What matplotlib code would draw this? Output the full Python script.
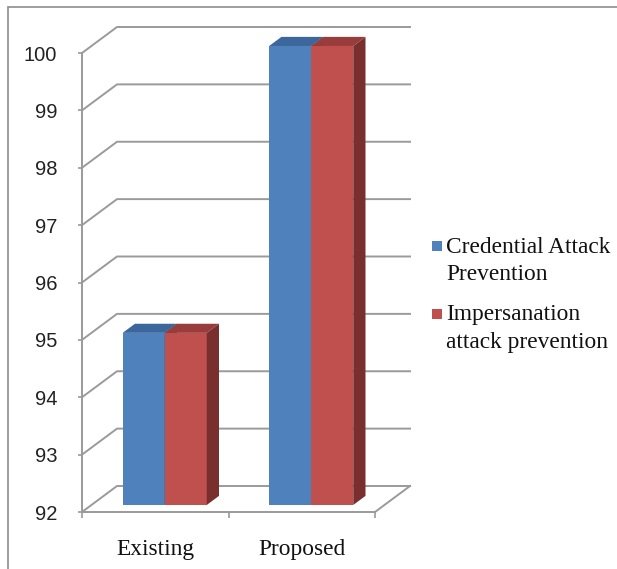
import matplotlib
matplotlib.use('Agg')
import matplotlib.pyplot as plt
from matplotlib.patches import Polygon, Rectangle

categories = ['Existing', 'Proposed']
series_names = ['Credential Attack\nPrevention', 'Impersanation\nattack prevention']
credential = [95, 100]
impersonation = [95, 100]
y_ticks = [92, 93, 94, 95, 96, 97, 98, 99, 100]

# face colours: front, top, side
blue = ('#4f81bd', '#3b679c', '#345a88')
red = ('#c0504d', '#983d3b', '#792f2e')
line_grey = '#9a9a9a'

W, H = 617, 569
fig = plt.figure(figsize=(W / 100, H / 100), dpi=100)
ax = fig.add_axes([82 / W, 57 / H, 293 / W, 459 / H])
ax.set_xlim(-0.5, 1.5)
ax.set_ylim(92, 100)

# depth of the box (back wall offset) in data units
DX = 35 / 146.5
DY = 26 / 57.375
front = 0.27   # where the bars start in depth
depth = 0.35   # how deep the bars are
bw = 0.287     # bar width

# back wall gridlines plus left-wall diagonals
x0, x1 = ax.get_xlim()
base = y_ticks[0]
for v in y_ticks:
    ax.plot([x0, x0 + DX, x1 + DX], [v, v + DY, v + DY], color=line_grey,
            lw=1.4, clip_on=False, zorder=1)
ax.plot([x1, x1 + DX], [base, base + DY], color=line_grey, lw=1.4,
        clip_on=False, zorder=1)


def bar3d(xl, value, cols, z):
    xr = xl + bw
    yb = base + front * DY
    yt = value + front * DY
    ax.bar(xl, value - base, bottom=yb, width=bw, align='edge',
           color=cols[0], lw=0, zorder=z, clip_on=False)
    top = [(xl, yt), (xr, yt), (xr + depth * DX, yt + depth * DY),
           (xl + depth * DX, yt + depth * DY)]
    side = [(xr, yb), (xr + depth * DX, yb + depth * DY),
            (xr + depth * DX, yt + depth * DY), (xr, yt)]
    ax.add_patch(Polygon(top, closed=True, fc=cols[1], lw=0, zorder=z,
                         clip_on=False))
    ax.add_patch(Polygon(side, closed=True, fc=cols[2], lw=0, zorder=z,
                         clip_on=False))


for i in range(len(categories)):
    c = i + front * DX
    bar3d(c - bw, credential[i], blue, 3)
    bar3d(c, impersonation[i], red, 4)

for s in ['top', 'right']:
    ax.spines[s].set_visible(False)
for s in ['left', 'bottom']:
    ax.spines[s].set_color(line_grey)
    ax.spines[s].set_linewidth(1.4)
    ax.spines[s].set_zorder(2)

ax.set_yticks(y_ticks)
ax.set_yticklabels([str(v) for v in y_ticks], family='Liberation Sans',
                   fontsize=14.5, color='#222222')
ax.tick_params(axis='y', direction='out', length=3, width=1.2,
               color=line_grey, pad=15)

ax.set_xticks(range(len(categories)))
ax.set_xticklabels(categories, family='Liberation Serif', fontsize=16.8,
                   color='#111111')
ax.tick_params(axis='x', which='major', length=0, pad=19.5)
ax.set_xticks([-0.5, 0.5, 1.5], minor=True)
ax.tick_params(axis='x', which='minor', direction='out', length=4, width=1.2,
               color=line_grey)

# chart area border
fig.add_artist(Rectangle((8 / W, -0.1), 1.2, (H - 7) / H + 0.1,
                         transform=fig.transFigure, fill=False,
                         ec='#8c8c8c', lw=1.2))

# legend
for name, cols, yc in [(series_names[0], blue, 261),
                       (series_names[1], red, 328.5)]:
    sq_y = yc - 15
    fig.add_artist(Rectangle((432 / W, 1 - (sq_y + 5) / H), 10 / W, 10 / H,
                             transform=fig.transFigure, fc=cols[0], lw=0))
    fig.text(446 / W, 1 - yc / H, name, family='Liberation Serif',
             fontsize=16.8, ha='left', va='center', linespacing=1.42,
             color='#111111')

fig.savefig('out.png', dpi=100)
